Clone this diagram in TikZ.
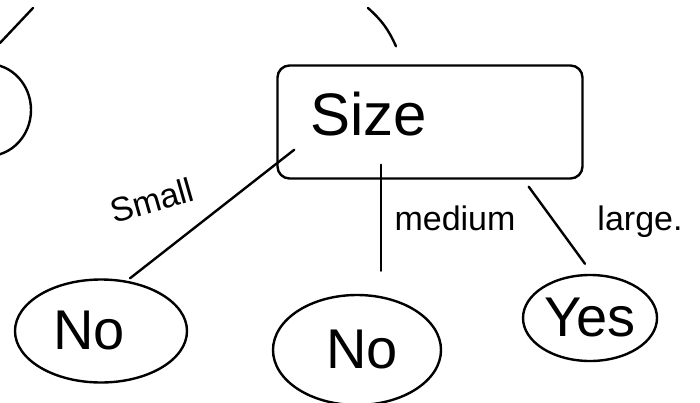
\documentclass[tikz,border=0pt]{standalone}
\usepackage{fontspec}
\setmainfont{Liberation Sans}
\usetikzlibrary{shapes.geometric,positioning}

\begin{document}
\begin{tikzpicture}[x=1pt,y=-1pt,line width=2.4pt,line cap=round,
  leaf/.style={ellipse, draw, inner sep=0pt, font=\fontsize{56}{60}\selectfont},
  branch/.style={font=\fontsize{34}{40}\selectfont}]
\useasboundingbox (0,0) rectangle (700,403);
\clip (0,0) rectangle (700,403);

% rest of the tree above
\node (prev) [ellipse, draw, minimum width=86pt, minimum height=92pt] at (-12,110) {};
\coordinate (upA) at (33,8);
\coordinate (upB) at (0,43);
\coordinate (up) at (368,8);
\draw (upA) -- (upB);

\node (size) [rectangle, draw, rounded corners=12pt, minimum width=305pt, minimum height=113pt,
  text width=240pt, align=left, font=\fontsize{60}{64}\selectfont] at (430,122)
{\raisebox{16pt}{Size}};
\draw (up) to[bend left=12] ([xshift=-34pt,yshift=18pt]size.north);

\node (noL) [leaf, minimum width=172pt, minimum height=103pt] at (101,331) {\hspace*{-24pt}No};
\node (noM) [leaf, minimum width=168pt, minimum height=110pt] at (357,350) {\hspace*{10pt}No};
\node (yes) [leaf, minimum width=134pt, minimum height=86pt] at (590,318) {Yes};

\node (lsmall) [branch, rotate=16] at (152,200) {Small};
\node (lmed) [branch] at (455,218) {medium};
\node (llarge) [branch] at (640,222) {large.};

\draw ([xshift=18pt,yshift=30pt]size.south west) -- ([xshift=29pt]noL.north);
\draw ([xshift=-49pt,yshift=15pt]size.south) -- ([xshift=24pt,yshift=23pt]noM.north);
\draw ([xshift=-55pt,yshift=-7pt]size.south east) -- ([xshift=-5pt,yshift=10pt]yes.north);

\end{tikzpicture}
\end{document}
